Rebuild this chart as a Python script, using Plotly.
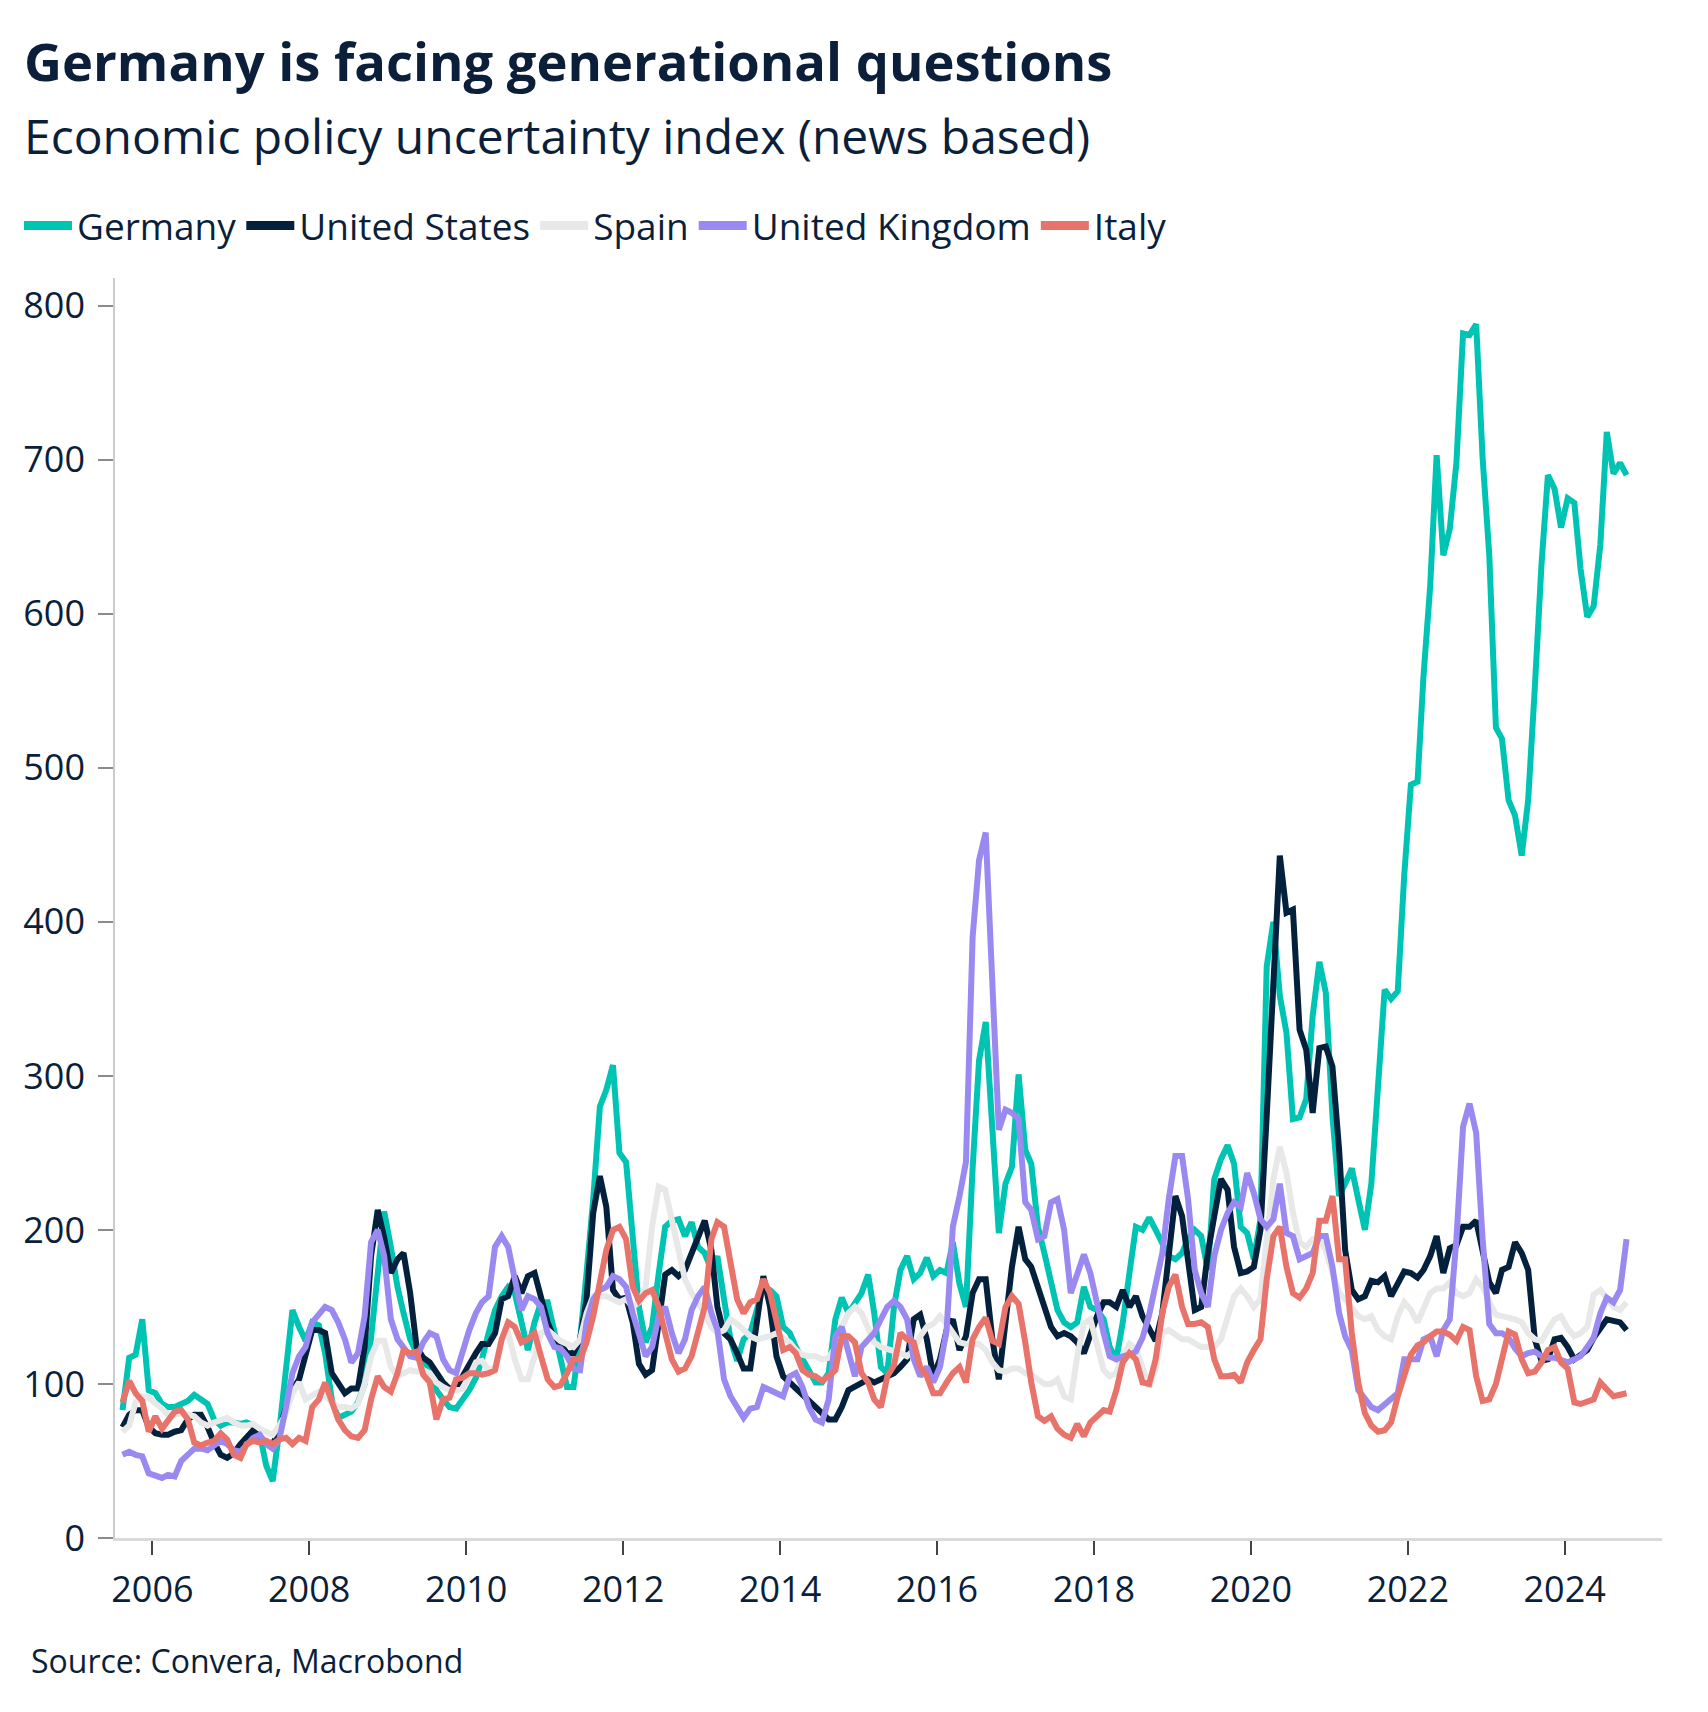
import pandas as pd
import plotly.graph_objects as go

# ---------------- data (monthly, Aug 2005 - Oct 2024) ----------------
start_month = "2005-08-01"
n_months = 231

germany = [
    83, 117, 119, 142, 96,
    94, 87, 85, 85, 87, 89, 93, 90, 87, 77, 73, 75,
    75, 74, 75, 73, 68, 47, 37, 70, 107, 148, 137, 128,
    140, 138, 120, 90, 78, 80, 82, 88, 100, 130, 175, 212,
    189, 163, 146, 129, 120, 116, 109, 96, 90, 85, 84, 90,
    96, 104, 116, 133, 148, 157, 163, 159, 140, 122, 140, 153,
    153, 133, 116, 98, 98, 129, 172, 220, 280, 291, 307, 250,
    244, 194, 150, 127, 137, 172, 202, 206, 207, 196, 205, 189,
    185, 174, 183, 155, 129, 115, 129, 133, 150, 163, 161, 157,
    137, 133, 124, 116, 107, 101, 101, 107, 142, 156, 146, 153,
    159, 171, 146, 111, 107, 150, 174, 183, 168, 172, 182, 170,
    174, 172, 192, 165, 150, 240, 310, 335, 265, 198, 230, 241,
    301, 252, 243, 202, 185, 168, 148, 140, 137, 140, 163, 150,
    148, 142, 124, 116, 140, 172, 202, 200, 208, 200, 192, 183,
    181, 185, 194, 200, 196, 174, 233, 246, 255, 243, 202, 198,
    181, 207, 371, 400, 352, 328, 272, 273, 285, 339, 374, 354,
    274, 222, 230, 240, 220, 200, 230, 295, 356, 350, 355, 430,
    489, 491, 560, 618, 703, 638, 655, 698, 782, 781, 788, 701,
    638, 526, 519, 479, 469, 443, 479, 552, 632, 690, 681, 656,
    675, 672, 629, 598, 605, 645, 718, 691, 698, 690,
]

united_states = [
    72, 80, 83, 83, 72,
    68, 67, 67, 69, 70, 77, 80, 80, 72, 62, 54, 52,
    55, 61, 66, 70, 66, 62, 61, 70, 85, 96, 103, 118,
    135, 135, 133, 107, 101, 94, 97, 97, 124, 183, 213, 195,
    172, 181, 185, 159, 124, 117, 114, 107, 101, 97, 98, 105,
    113, 120, 126, 126, 133, 155, 157, 170, 159, 170, 172, 157,
    140, 129, 126, 120, 120, 129, 155, 211, 235, 215, 161, 155,
    156, 140, 113, 106, 109, 140, 171, 174, 170, 174, 185, 196,
    206, 187, 150, 133, 129, 120, 110, 110, 140, 170, 150, 118,
    105, 101, 98, 94, 90, 85, 81, 77, 77, 85, 96, 98,
    100, 103, 101, 103, 105, 107, 111, 116, 142, 145, 129, 105,
    116, 135, 142, 122, 131, 159, 168, 168, 129, 103, 140, 176,
    202, 181, 176, 163, 150, 137, 131, 133, 131, 127, 120, 133,
    144, 153, 153, 150, 161, 150, 157, 144, 135, 128, 146, 185,
    222, 209, 183, 148, 150, 185, 209, 233, 226, 189, 172, 173,
    176, 200, 274, 362, 443, 406, 408, 330, 317, 276, 318, 319,
    306, 252, 187, 161, 155, 157, 167, 166, 170, 157, 165, 173,
    172, 169, 174, 183, 196, 172, 188, 190, 202, 202, 206, 185,
    166, 159, 174, 176, 192, 185, 174, 129, 115, 116, 129, 130,
    124, 116, 119, 122, 130, 137, 142, 141, 140, 135,
]

spain = [
    69, 73, 88, 92, 91,
    88, 84, 80, 80, 81, 80, 79, 75, 73, 75, 77, 78,
    75, 73, 73, 74, 71, 69, 67, 73, 81, 94, 101, 90,
    92, 95, 92, 88, 85, 85, 84, 87, 100, 118, 128, 128,
    111, 105, 107, 109, 108, 109, 107, 101, 98, 96, 96, 97,
    105, 114, 115, 109, 111, 129, 133, 116, 103, 103, 118, 133,
    135, 131, 128, 126, 124, 129, 146, 157, 157, 157, 155, 153,
    155, 150, 153, 163, 202, 228, 226, 207, 185, 168, 159, 153,
    146, 137, 133, 135, 142, 139, 135, 131, 129, 130, 131, 133,
    130, 127, 122, 119, 118, 118, 116, 117, 124, 137, 146, 150,
    146, 135, 127, 124, 123, 121, 120, 118, 122, 131, 137, 139,
    144, 139, 133, 127, 126, 126, 126, 122, 114, 109, 108, 110,
    110, 107, 106, 103, 100, 100, 103, 92, 90, 118, 139, 142,
    124, 109, 105, 107, 118, 126, 123, 110, 98, 110, 133, 135,
    132, 129, 129, 126, 124, 124, 124, 129, 144, 157, 162, 157,
    150, 155, 194, 233, 254, 237, 211, 192, 189, 194, 194, 187,
    172, 159, 155, 150, 144, 142, 144, 135, 131, 129, 144, 153,
    148, 140, 148, 159, 162, 162, 166, 159, 157, 159, 168, 163,
    153, 145, 144, 143, 142, 140, 133, 129, 128, 135, 142, 144,
    136, 131, 133, 137, 158, 161, 156, 150, 148, 153,
]

united_kingdom = [
    54, 56, 54, 53, 42,
    40, 39, 41, 40, 50, 54, 58, 58, 57, 60, 63, 61,
    57, 56, 61, 65, 67, 61, 58, 64, 85, 107, 118, 124,
    140, 145, 150, 148, 140, 129, 114, 120, 144, 192, 200, 183,
    142, 129, 124, 118, 117, 127, 133, 131, 116, 109, 107, 122,
    135, 146, 153, 157, 189, 196, 189, 168, 148, 157, 155, 150,
    133, 124, 123, 118, 110, 109, 140, 155, 161, 163, 170, 168,
    163, 146, 131, 118, 124, 144, 150, 133, 120, 129, 148, 157,
    163, 146, 135, 103, 92, 85, 78, 84, 85, 98, 96, 94,
    92, 105, 107, 98, 85, 77, 75, 90, 131, 137, 120, 105,
    124, 129, 133, 142, 150, 154, 150, 142, 116, 105, 111, 101,
    111, 135, 202, 222, 244, 390, 440, 458, 355, 265, 278, 276,
    272, 218, 213, 194, 196, 218, 220, 200, 159, 172, 184, 172,
    150, 133, 118, 116, 118, 119, 121, 130, 145, 165, 185, 220,
    248, 248, 220, 174, 159, 150, 183, 200, 211, 218, 215, 237,
    224, 207, 202, 207, 230, 198, 196, 181, 183, 185, 196, 196,
    176, 146, 131, 122, 96, 90, 85, 83, 87, 90, 94, 116,
    116, 116, 129, 131, 118, 135, 142, 194, 267, 282, 263, 194,
    139, 133, 133, 130, 123, 118, 120, 121, 118, 117, 117, 116,
    114, 116, 118, 124, 130, 146, 156, 153, 161, 194,
]

italy = [
    88, 102, 94, 89, 69,
    79, 71, 77, 82, 83, 77, 62, 60, 62, 63, 68, 64,
    54, 52, 61, 63, 62, 63, 61, 64, 65, 61, 65, 63,
    85, 90, 101, 90, 77, 70, 66, 65, 70, 90, 105, 98,
    95, 107, 122, 120, 121, 106, 101, 77, 90, 91, 103, 104,
    107, 107, 106, 107, 109, 129, 140, 137, 127, 129, 133, 118,
    103, 98, 99, 107, 116, 116, 127, 144, 168, 187, 200, 202,
    194, 163, 154, 159, 161, 150, 133, 116, 108, 110, 118, 133,
    150, 194, 205, 202, 181, 155, 146, 153, 155, 168, 159, 140,
    122, 124, 120, 109, 106, 105, 102, 105, 109, 131, 131, 127,
    107, 101, 90, 85, 105, 112, 133, 129, 127, 111, 105, 94,
    94, 101, 107, 111, 101, 129, 137, 143, 128, 126, 150, 157,
    152, 127, 101, 79, 76, 79, 71, 67, 65, 74, 66, 75,
    79, 83, 82, 96, 114, 120, 116, 101, 100, 116, 146, 163,
    171, 150, 139, 139, 140, 137, 116, 105, 105, 106, 101, 114,
    122, 129, 168, 196, 202, 176, 159, 156, 162, 172, 206, 206,
    222, 181, 181, 133, 101, 81, 73, 69, 70, 75, 92, 104,
    119, 125, 127, 131, 134, 134, 132, 128, 137, 135, 105, 89,
    90, 100, 116, 134, 132, 116, 107, 108, 114, 122, 124, 114,
    110, 88, 87, 89, 90, 101, 96, 92, 93, 94,
]

series_names = ["Germany", "United States", "Spain", "United Kingdom", "Italy"]
series_values = [germany, united_states, spain, united_kingdom, italy]

title_text = "Germany is facing generational questions"
subtitle_text = "Economic policy uncertainty index (news based)"
source_text = "Source: Convera, Macrobond"

# ---------------- styling ----------------
colors = ["#00C4B3", "#03203D", "#E8E8E8", "#9B89F2", "#E8736A"]
TEXT = "#0B1F3B"
FONT = "Segoe UI, Open Sans, sans-serif"

W, H = 1708, 1712
ML, MR, MT, MB = 115, 46, 278, 174
PW, PH = W - ML - MR, H - MT - MB


def px_x(px):
    return (px - ML) / PW


def px_y(py):
    return (H - MB - py) / PH


dates = pd.date_range(start_month, periods=n_months, freq="MS") + pd.Timedelta(days=14)

fig = go.Figure()
for name, vals, col in zip(series_names, series_values, colors):
    fig.add_trace(go.Scatter(
        x=dates, y=vals, name=name, mode="lines",
        line=dict(color=col, width=6), showlegend=False,
    ))
# legend-only entries (thicker swatches, as in the original)
for name, col in zip(series_names, colors):
    fig.add_trace(go.Scatter(
        x=[None], y=[None], name=name, mode="lines",
        line=dict(color=col, width=9), showlegend=True,
    ))

fig.update_layout(
    width=W, height=H,
    margin=dict(l=ML, r=MR, t=MT, b=MB, pad=0),
    plot_bgcolor="white", paper_bgcolor="white",
    font=dict(family=FONT, color=TEXT, size=36),
    showlegend=True,
    legend=dict(
        orientation="h", x=px_x(19), xanchor="left",
        y=px_y(226), yanchor="middle",
        font=dict(size=37, color=TEXT, family=FONT),
        bgcolor="rgba(0,0,0,0)", itemwidth=48, tracegroupgap=0,
    ),
    xaxis=dict(
        type="date", range=["2005-07-11", "2025-03-29"],
        tick0="2006-01-01", dtick="M24", tickformat="%Y",
        ticks="outside", ticklen=14, tickwidth=2, tickcolor="#444444",
        showline=True, linecolor="#DADADA", linewidth=3,
        showgrid=False, zeroline=False,
        tickfont=dict(size=36, color=TEXT, family=FONT),
        ticklabelstandoff=4,
    ),
    yaxis=dict(
        range=[0, 818], tick0=0, dtick=100,
        ticks="outside", ticklen=15, tickwidth=1.5, tickcolor="#8A8A8A",
        showline=True, linecolor="#CCCCCC", linewidth=1.5,
        showgrid=False, zeroline=False,
        tickfont=dict(size=36, color=TEXT, family=FONT),
        ticklabelstandoff=6,
    ),
    annotations=[
        dict(text="<b>" + title_text + "</b>", xref="paper", yref="paper",
             x=px_x(22), y=px_y(61), xanchor="left", yanchor="middle",
             showarrow=False, font=dict(size=52.5, color=TEXT, family=FONT)),
        dict(text=subtitle_text, xref="paper", yref="paper",
             x=px_x(22), y=px_y(136), xanchor="left", yanchor="middle",
             showarrow=False, font=dict(size=48, color=TEXT, family=FONT)),
        dict(text=source_text, xref="paper", yref="paper",
             x=px_x(29), y=px_y(1660), xanchor="left", yanchor="middle",
             showarrow=False, font=dict(size=32, color=TEXT, family=FONT)),
    ],
)

fig.write_html(
    "out.html",
    config={"displayModeBar": False},
    post_script="document.body.style.margin='0';document.body.style.overflow='hidden';",
)
